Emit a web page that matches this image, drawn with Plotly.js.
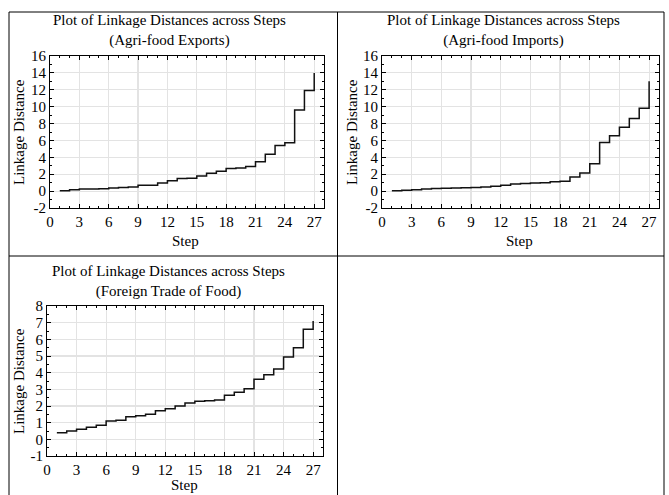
<!DOCTYPE html>
<html>
<head>
<meta charset="utf-8">
<script src="https://cdn.plot.ly/plotly-3.0.1.min.js"></script>
<style>html,body{margin:0;padding:0;background:#fff;}#chart{width:669px;height:495px;}</style>
</head>
<body>
<div id="chart"></div>
<script>
// ---- data ----
const steps = [1,2,3,4,5,6,7,8,9,10,11,12,13,14,15,16,17,18,19,20,21,22,23,24,25,26,27];
const exportsDist = [0.05,0.16,0.24,0.26,0.28,0.36,0.42,0.48,0.68,0.7,0.96,1.24,1.48,1.52,1.78,2.12,2.36,2.68,2.74,2.9,3.48,4.36,5.4,5.72,9.6,11.9,14.0];
const importsDist = [0.05,0.1,0.15,0.25,0.3,0.34,0.38,0.4,0.44,0.5,0.58,0.68,0.84,0.9,0.95,1.0,1.12,1.16,1.68,2.15,3.25,5.75,6.55,7.55,8.6,9.8,13.0];
const foodDist = [0.4,0.5,0.6,0.72,0.84,1.1,1.14,1.36,1.42,1.5,1.72,1.84,2.0,2.18,2.28,2.32,2.36,2.64,2.82,3.04,3.6,3.88,4.22,4.94,5.5,6.6,7.1];
const xTicks = [0,3,6,9,12,15,18,21,24,27];
const yTicksTrade = [-2,0,2,4,6,8,10,12,14,16];
const yTickLabelsTrade = ["-2","0","2","4","6","8","10","12","14","16"];
const yTicksFood = [-1,0,1,2,3,4,5,6,7,8];
const yTickLabelsFood = ["-1","0","1","2","3","4","5","6","7","8"];
const titles = [
  "Plot of Linkage Distances across Steps<br>(Agri-food Exports)",
  "Plot of Linkage Distances across Steps<br>(Agri-food Imports)",
  "Plot of Linkage Distances across Steps<br>(Foreign Trade of Food)"
];
const yTitle = "Linkage Distance";
const xTitle = "Step";

// ---- layout helpers ----
const W = 669, H = 495;
const FONT = "Liberation Serif, Times New Roman, serif";
const px = v => v / W;
const py = v => 1 - v / H;

function xax(domain, anchor) {
  return {
    domain: domain, anchor: anchor, range: [0, 28], tickvals: xTicks,
    showgrid: true, gridcolor: "#e3e3e3", gridwidth: 1.2, zeroline: false,
    showline: true, linecolor: "#000", linewidth: 1, mirror: "ticks",
    ticks: "inside", ticklen: 4, tickcolor: "#000",
    minor: {dtick: 1, ticks: "inside", ticklen: 2, tickcolor: "#000", showgrid: false},
    tickfont: {family: FONT, size: 15, color: "#000"}, fixedrange: true
  };
}
function yax(domain, anchor, range, tv, tt, mdt) {
  return {
    domain: domain, anchor: anchor, range: range, tickvals: tv, ticktext: tt,
    showgrid: true, gridcolor: "#e3e3e3", gridwidth: 1.2, zeroline: false,
    showline: true, linecolor: "#000", linewidth: 1, mirror: "ticks",
    ticks: "inside", ticklen: 4, tickcolor: "#000",
    minor: {dtick: mdt, tick0: 0, ticks: "inside", ticklen: 2, tickcolor: "#000", showgrid: false},
    tickfont: {family: FONT, size: 15, color: "#000"}, fixedrange: true
  };
}

const lineStyle = {color: "#111", width: 1.5, shape: "hv"};
const data = [
  {x: steps, y: exportsDist, type: "scatter", mode: "lines", line: lineStyle, xaxis: "x", yaxis: "y", hoverinfo: "x+y"},
  {x: steps, y: importsDist, type: "scatter", mode: "lines", line: lineStyle, xaxis: "x2", yaxis: "y2", hoverinfo: "x+y"},
  {x: steps, y: foodDist, type: "scatter", mode: "lines", line: lineStyle, xaxis: "x3", yaxis: "y3", hoverinfo: "x+y"}
];

const ann = (text, x, y, angle) => ({
  text: text, xref: "paper", yref: "paper", x: px(x), y: py(y),
  xanchor: "center", yanchor: "middle", showarrow: false, textangle: angle || 0,
  font: {family: FONT, size: 15, color: "#000"}
});

const layout = {
  width: W, height: H, showlegend: false,
  paper_bgcolor: "#fff", plot_bgcolor: "#fff",
  margin: {l: 0, r: 0, t: 0, b: 0},
  xaxis: xax([px(50), px(324)], "y"),
  yaxis: yax([py(208), py(56)], "x", [-2, 16], yTicksTrade, yTickLabelsTrade, 1),
  xaxis2: xax([px(382), px(659)], "y2"),
  yaxis2: yax([py(208), py(56)], "x2", [-2, 16], yTicksTrade, yTickLabelsTrade, 1),
  xaxis3: xax([px(47), px(323)], "y3"),
  yaxis3: yax([py(456), py(306)], "x3", [-1, 8], yTicksFood, yTickLabelsFood, 0.5),
  annotations: [
    ann(titles[0], 169, 31), ann(titles[1], 504, 31), ann(titles[2], 168, 281),
    ann(yTitle, 19, 132, -90), ann(yTitle, 352, 132, -90), ann(yTitle, 19, 381, -90),
    ann(xTitle, 185, 241), ann(xTitle, 519, 241), ann(xTitle, 184, 485)
  ],
  shapes: [
    {type: "line", xref: "paper", yref: "paper", x0: px(9), x1: px(9), y0: py(12), y1: py(500), line: {color: "#000", width: 1}},
    {type: "line", xref: "paper", yref: "paper", x0: px(664), x1: px(664), y0: py(12), y1: py(500), line: {color: "#000", width: 1}},
    {type: "line", xref: "paper", yref: "paper", x0: px(9), x1: px(664), y0: py(12), y1: py(12), line: {color: "#000", width: 1}},
    {type: "line", xref: "paper", yref: "paper", x0: px(337.5), x1: px(337.5), y0: py(12), y1: py(500), line: {color: "#000", width: 1}},
    {type: "line", xref: "paper", yref: "paper", x0: px(9), x1: px(664), y0: py(256), y1: py(256), line: {color: "#000", width: 1}}
  ]
};

Plotly.newPlot("chart", data, layout, {displayModeBar: false, staticPlot: true});
</script>
</body>
</html>
